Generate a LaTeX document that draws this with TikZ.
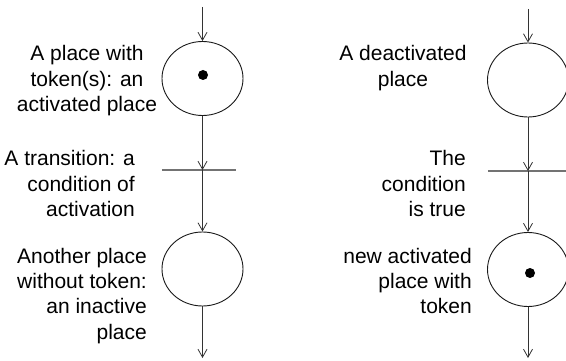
\documentclass[tikz,border=0pt]{standalone}
\usepackage{fontspec}
\setmainfont{Liberation Sans}
\usetikzlibrary{arrows.meta,shapes.geometric}
\tikzset{
  place/.style={draw=black!90, line width=0.9pt, ellipse, minimum width=81pt, minimum height=74pt, inner sep=0pt},
  trans/.style={minimum width=#1, minimum height=0pt, inner sep=0pt},
  bar/.style={draw=black!55, line width=1.2pt},
  flow/.style={draw=black!80, line width=0.8pt, -{Straight Barb[length=8pt,width=9pt]}},
  plain/.style={draw=black!80, line width=0.8pt},
  token/.style={circle, fill=black, minimum size=10pt, inner sep=0pt},
  lbl/.style={inner sep=0pt, font=\fontsize{21}{25.5}\selectfont}
}
\begin{document}
\begin{tikzpicture}[x=1pt,y=-1pt]
\useasboundingbox (0,0) rectangle (566,361);
\clip (0,0) rectangle (566,361);
% left column
\coordinate (s1) at (202.5,7);
\node[place] (c1) at (202.5,78.5) {};
\node[token] (k1) at (203,75) {};
\node[trans=74pt] (t1) at (199,170) {};
\node[place] (c2) at (202.5,269) {};
\coordinate (e1) at (202.5,358);
\draw[bar] (t1.west) -- (t1.east);
\draw[flow] (s1) -- (c1.north);
\draw[flow] (c1.south) -- (c1 |- t1);
\draw[flow] (c1 |- t1) -- (c2.north);
\draw[flow] (c2.south) -- (e1);
% right column
\coordinate (s2) at (528,9);
\node[place] (c3) at (528,80) {};
\node[trans=82pt] (t2) at (529,171) {};
\node[place] (c4) at (528,269.5) {};
\node[token] (k2) at (530,273) {};
\coordinate (e2) at (528,358);
\draw[bar] (t2.west) -- (t2.east);
\draw[flow] (s2) -- (c3.north);
\draw[flow] (c3.south) -- (c3 |- t2);
\draw[flow] (c3 |- t2) -- (c4.north);
\draw[flow] (c4.south) -- (e2);
% labels
\node[lbl, anchor=base] (l1) at (87,61) {\begin{tabular}[t]{@{}c@{}}A place with\\token(s): an\\activated place\end{tabular}};
\node[lbl, anchor=base east] (l2) at (135,166) {\begin{tabular}[t]{@{}r@{}}A transition: a\\condition of\\activation\end{tabular}};
\node[lbl, anchor=base east] (l3) at (147,263) {\begin{tabular}[t]{@{}r@{}}Another place\\without token:\\an inactive\\place\end{tabular}};
\node[lbl, anchor=base] (l4) at (403,61) {\begin{tabular}[t]{@{}c@{}}A deactivated\\place\end{tabular}};
\node[lbl, anchor=base east] (l5) at (466,166) {\begin{tabular}[t]{@{}r@{}}The\\condition\\is true\end{tabular}};
\node[lbl, anchor=base east] (l6) at (472,263) {\begin{tabular}[t]{@{}r@{}}new activated\\place with\\token\end{tabular}};
\end{tikzpicture}
\end{document}
